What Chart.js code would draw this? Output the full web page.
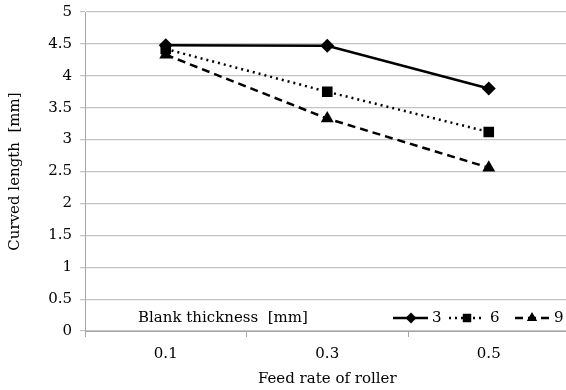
<!DOCTYPE html>
<html>
<head>
<meta charset="utf-8">
<script src="https://cdn.jsdelivr.net/npm/chart.js@4/dist/chart.umd.min.js"></script>
<style>
    html, body { margin: 0; padding: 0; background: #fff; overflow: hidden; }
    #wrap { width: 566px; height: 390px; overflow: hidden; position: relative; }
    #curve-chart { position: absolute; left: 0; top: -5px; }
</style>
</head>
<body>
<div id="wrap"><canvas id="curve-chart" width="577" height="395"></canvas></div>
<script>
// Feed rate categories and curved length per blank thickness
var feedRates = ['0.1', '0.3', '0.5'];
var thicknessLabels = ['3', '6', '9'];
var length3 = [4.48, 4.47, 3.80];
var length6 = [4.42, 3.75, 3.12];
var length9 = [4.33, 3.33, 2.56];

var SERIF = '"DejaVu Serif", "Liberation Serif", serif';
var FONT_SIZE = 15;

// Legend drawn inside the plot, along the bottom edge
var innerLegend = {
    id: 'innerLegend',
    afterDatasetsDraw: function(chart) {
        var ctx = chart.ctx;
        var y = 323;
        ctx.save();
        ctx.fillStyle = '#000';
        ctx.font = FONT_SIZE + 'px ' + SERIF;
        ctx.textBaseline = 'middle';
        ctx.textAlign = 'left';
        ctx.fillText('Blank thickness  [mm]', 138, y);

        var items = [
            { x0: 393, x1: 428, mx: 411, tx: 432 },
            { x0: 449, x1: 485, mx: 467, tx: 490 },
            { x0: 515, x1: 550, mx: 532, tx: 554 }
        ];
        chart.data.datasets.forEach(function(ds, i) {
            var it = items[i];
            ctx.strokeStyle = '#000';
            ctx.lineWidth = 2.5;
            ctx.setLineDash(ds.borderDash || []);
            ctx.beginPath();
            ctx.moveTo(it.x0, y);
            ctx.lineTo(it.x1, y);
            ctx.stroke();
            ctx.setLineDash([]);
            ctx.fillStyle = '#000';
            Chart.helpers.drawPoint(ctx, {
                pointStyle: ds.pointStyle,
                radius: ds.pointRadius - 1.5,
                rotation: 0,
                borderWidth: 0
            }, it.mx, y);
            ctx.fillStyle = '#000';
            ctx.fillText(thicknessLabels[i], it.tx, y);
        });
        ctx.restore();
    }
};

function makeSeries(values, style, radius, dash) {
    return {
        data: values,
        borderColor: '#000',
        backgroundColor: '#000',
        borderWidth: 2.5,
        borderDash: dash,
        pointStyle: style,
        pointRadius: radius,
        pointHoverRadius: radius,
        pointBorderWidth: 0,
        tension: 0
    };
}

new Chart(document.getElementById('curve-chart').getContext('2d'), {
    type: 'line',
    data: {
        labels: feedRates,
        datasets: [
            makeSeries(length3, 'rectRot', 7, []),
            makeSeries(length6, 'rect', 7.5, [2, 4]),
            makeSeries(length9, 'triangle', 7.5, [8, 5])
        ]
    },
    options: {
        responsive: false,
        animation: false,
        layout: { padding: { top: 0, right: 0, left: 0, bottom: 0 } },
        plugins: {
            legend: { display: false },
            tooltip: { enabled: false }
        },
        scales: {
            x: {
                offset: true,
                afterFit: function(scale) { scale.height = 59; },
                grid: {
                    offset: true,
                    drawOnChartArea: false,
                    drawTicks: true,
                    tickLength: 6,
                    color: '#a6a6a6'
                },
                border: { color: '#a6a6a6', width: 1 },
                ticks: { color: '#000', font: { family: SERIF, size: FONT_SIZE }, padding: 8 },
                title: {
                    display: true,
                    text: 'Feed rate of roller',
                    color: '#000',
                    font: { family: SERIF, size: FONT_SIZE },
                    padding: { top: 2, bottom: 2 }
                }
            },
            y: {
                min: 0,
                max: 5,
                afterFit: function(scale) { scale.width = 85; },
                ticks: {
                    stepSize: 0.5,
                    color: '#000',
                    font: { family: SERIF, size: FONT_SIZE },
                    padding: 8,
                    callback: function(v) { return String(+v.toFixed(1)); }
                },
                grid: {
                    color: '#c4c4c4',
                    lineWidth: 1.2,
                    tickLength: 5
                },
                border: { color: '#a6a6a6', width: 1 },
                title: {
                    display: true,
                    text: 'Curved length  [mm]',
                    color: '#000',
                    font: { family: SERIF, size: FONT_SIZE },
                    padding: { top: 6, bottom: 6 }
                }
            }
        }
    },
    plugins: [innerLegend]
});
</script>
</body>
</html>
